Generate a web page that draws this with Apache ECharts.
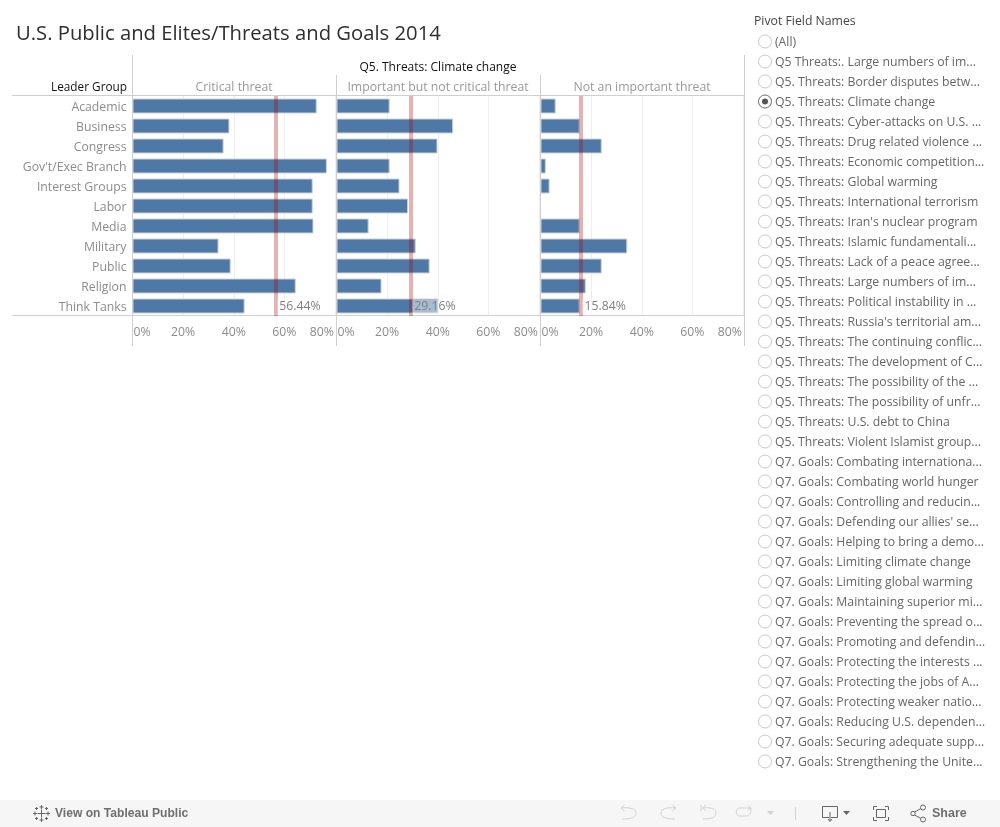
<!DOCTYPE html>
<html>
<head>
<meta charset="utf-8">
<style>html,body{margin:0;padding:0;background:#fff}#c{width:1000px;height:827px}</style>
<script src="https://cdn.jsdelivr.net/npm/echarts@6/dist/echarts.min.js"></script>
</head>
<body>
<div id="c"></div>
<script>
const chartTitle = "U.S. Public and Elites/Threats and Goals 2014";
const questionTitle = "Q5. Threats: Climate change";
const rowHeader = "Leader Group";
const leaderGroups = ["Academic","Business","Congress","Gov't/Exec Branch","Interest Groups","Labor","Media","Military","Public","Religion","Think Tanks"];
const panelNames = ["Critical threat","Important but not critical threat","Not an important threat"];
const criticalValues = [72.8,38.3,36,76.8,71.2,71.2,71.5,34,38.8,64.5,44.3];
const importantValues = [21,46.1,39.9,21,24.9,28.3,12.7,31.3,36.8,17.8,40.3];
const notImportantValues = [6,15.5,24.2,2.1,3.6,null,15.5,34.3,24.2,17.9,15.5];
const referenceValues = [56.44,29.16,15.84];
const filterTitle = "Pivot Field Names";
const filterItems = ["(All)","Q5 Threats:. Large numbers of im...","Q5. Threats: Border disputes betw...","Q5. Threats: Climate change","Q5. Threats: Cyber-attacks on U.S. ...","Q5. Threats: Drug related violence ...","Q5. Threats: Economic competition...","Q5. Threats: Global warming","Q5. Threats: International terrorism","Q5. Threats: Iran's nuclear program","Q5. Threats: Islamic fundamentali...","Q5. Threats: Lack of a peace agree...","Q5. Threats: Large numbers of im...","Q5. Threats: Political instability in ...","Q5. Threats: Russia's territorial am...","Q5. Threats: The continuing conflic...","Q5. Threats: The development of C...","Q5. Threats: The possibility of the ...","Q5. Threats: The possibility of unfr...","Q5. Threats: U.S. debt to China","Q5. Threats: Violent Islamist group...","Q7. Goals: Combating internationa...","Q7. Goals: Combating world hunger","Q7. Goals: Controlling and reducin...","Q7. Goals: Defending our allies' se...","Q7. Goals: Helping to bring a demo...","Q7. Goals: Limiting climate change","Q7. Goals: Limiting global warming","Q7. Goals: Maintaining superior mi...","Q7. Goals: Preventing the spread o...","Q7. Goals: Promoting and defendin...","Q7. Goals: Protecting the interests ...","Q7. Goals: Protecting the jobs of A...","Q7. Goals: Protecting weaker natio...","Q7. Goals: Reducing U.S. dependen...","Q7. Goals: Securing adequate supp...","Q7. Goals: Strengthening the Unite..."];
const selectedFilter = "Q5. Threats: Climate change";
const footerLink = "View on Tableau Public";
const footerShare = "Share";

const FONT = '"Open Sans", sans-serif';
const allValues = [criticalValues, importantValues, notImportantValues];
const lefts = [132.5, 336.5, 540.5];
const g = [];
const line = (x1,y1,x2,y2,stroke,lw,z) => g.push({type:'line',shape:{x1,y1,x2,y2},style:{stroke,lineWidth:lw||1},z:z||1,silent:true});
const text = (x,y,t,fill,size,align,weight,font) => g.push({type:'text',x,y,style:{text:t,fill,fontSize:size,fontFamily:font||FONT,fontWeight:weight||'normal',align:align||'left',verticalAlign:'middle'},z:6,silent:true});
const poly = (points,stroke) => g.push({type:'polyline',shape:{points},style:{stroke,fill:null,lineWidth:1},z:6,silent:true});
const curve = (x1,y1,cpx1,cpy1,cpx2,cpy2,x2,y2,stroke) => g.push({type:'bezierCurve',shape:{x1,y1,cpx1,cpy1,cpx2,cpy2,x2,y2},style:{stroke,fill:null,lineWidth:1},z:6,silent:true});

// frame
[132.5,744.5].forEach(x => line(x,55,x,346,'#cfcfcf',1,6));
[336.5,540.5].forEach(x => line(x,75,x,346,'#cfcfcf',1,6));
[95.5,315.5].forEach(y => line(12,y,744,y,'#cfcfcf',1,6));

// headers
text(16,34.5,chartTitle,'#2e2e2e',20.25,'left','normal');
text(438,68,questionTitle,'#111',12,'center','normal');
text(127,87.5,rowHeader,'#111',11.8,'right','normal');
panelNames.forEach((n,i)=>text([234,438,642][i],87.5,n,'#999',12.25,'center'));

// filter list
text(754,22,filterTitle,'#444',12.25);
filterItems.forEach((n,i)=>{
  const y = 41 + i*20;
  g.push({type:'circle',shape:{cx:765,cy:y+0.5,r:6.5},style:{fill:'#fff',stroke:'#c8c8c8',lineWidth:1},z:6,silent:true});
  if(n===selectedFilter){
    g.push({type:'circle',shape:{cx:765,cy:y+0.5,r:6.5},style:{fill:'#fff',stroke:'#777',lineWidth:1},z:6,silent:true});
    g.push({type:'circle',shape:{cx:765,cy:y+0.5,r:3},style:{fill:'#555'},z:7,silent:true});
  }
  text(775,y+2,n,'#666',12.25);
});

// footer
g.push({type:'rect',shape:{x:0,y:800,width:1000,height:27},style:{fill:'#f6f6f6'},z:0,silent:true});
text(55,814,footerLink,'#6f6f6f',12.1,'left','bold','"Liberation Sans", sans-serif');
text(932,814,footerShare,'#6f6f6f',12.5,'left','bold','"Liberation Sans", sans-serif');
// logo
[[41.5,813.5,4],[35,813.5,2],[48,813.5,2],[41.5,807,2],[41.5,820,2],[36.5,808.5,1.5],[46.5,808.5,1.5],[36.5,818.5,1.5],[46.5,818.5,1.5]].forEach(([x,y,s])=>{
  line(x-s,y,x+s,y,'#666',1,6); line(x,y-s,x,y+s,'#666',1,6);
});
const light='#d2d2d2', dark='#666';
// undo
poly([[624.5,805],[621,808],[624.5,811]],light);
curve(621,808,631,807,636,809,636,813,light); curve(636,813,636,817,632,819,622,819,light);
// redo
poly([[672.5,805],[676,808],[672.5,811]],light);
curve(676,808,666,807,661,809,661,813,light); curve(661,813,661,817,665,819,675,819,light);
// revert
line(701,805,701,811,light,1,6);
poly([[706,805],[702.5,808],[706,811]],light);
curve(702.5,808,712,807,716,809,716,813,light); curve(716,813,716,817,712,819,703,819,light);
// refresh
poly([[748,805.5],[751,808],[748,810.5]],light);
curve(751,808,742,808,741,808,740,808,light);
curve(740,808,735,808,735,816,740,816,light);
poly([[740,816],[746,816]],light);
curve(746,816,750,816,751,813,751,808,light);
g.push({type:'polygon',shape:{points:[[767,811],[774,811],[770.5,815]]},style:{fill:light},z:6,silent:true});
line(795.5,807,795.5,820,light,1,6);
// download
poly([[829,817.5],[822.5,817.5],[822.5,806.5],[837.5,806.5],[837.5,817.5],[831,817.5]],dark);
line(830,812,830,821,dark,1,6);
poly([[828,819],[830,821.5],[832,819]],dark);
g.push({type:'polygon',shape:{points:[[843,811],[850,811],[846.5,815]]},style:{fill:dark},z:6,silent:true});
// fullscreen
poly([[873.5,810],[873.5,806.5],[877,806.5]],dark);
poly([[885,806.5],[888.5,806.5],[888.5,810]],dark);
poly([[888.5,817],[888.5,820.5],[885,820.5]],dark);
poly([[877,820.5],[873.5,820.5],[873.5,817]],dark);
poly([[876.5,809.5],[885.5,809.5],[885.5,817.5],[876.5,817.5],[876.5,809.5]],dark);
// share
line(914.5,812,921,808.5,dark,1,6);
line(914.5,815,921,818.5,dark,1,6);
[[913,813.5,2.2],[923,807.5,2.5],[923,819.5,2.5]].forEach(([cx,cy,r])=>g.push({type:'circle',shape:{cx,cy,r},style:{fill:'#f6f6f6',stroke:dark,lineWidth:1},z:7,silent:true}));

const grids = lefts.map(left=>({left,top:96,width:202.5,height:220,containLabel:false}));
const xAxes = lefts.map((_,i)=>({
  type:'value',gridIndex:i,min:0,max:80,interval:20,position:'bottom',
  axisLine:{show:false},axisTick:{show:false},
  splitLine:{show:true,lineStyle:{color:'#eeeeee',width:1}},
  axisLabel:{formatter:'{value}%',color:'#8c8c8c',fontSize:12.25,fontFamily:FONT,margin:11,alignMinLabel:'left',alignMaxLabel:'right',padding:[0,1,0,1]}
}));
const yAxes = lefts.map((_,i)=>({
  type:'category',gridIndex:i,data:leaderGroups,inverse:true,
  axisLine:{show:false},axisTick:{show:false},splitLine:{show:false},
  axisLabel:{show:i===0,color:'#8c8c8c',fontSize:12.25,fontFamily:FONT,margin:6,interval:0,
    formatter:'{n|{value}}',rich:{n:{color:'#8c8c8c',fontSize:12.25,fontFamily:FONT,padding:[3,0,0,0]}}}
}));
const series = allValues.map((vals,i)=>({
  type:'bar',xAxisIndex:i,yAxisIndex:i,data:vals,barWidth:15,z:2,
  itemStyle:{color:'#4e79a7',borderColor:'#ced2d6',borderWidth:1},
  silent:true,
  markLine:{silent:true,symbol:'none',animation:false,label:{show:false},z:8,
    lineStyle:{color:'rgba(170,0,0,0.3)',width:4,type:'solid'},
    data:[{xAxis:referenceValues[i]}]},
  markPoint:{silent:true,symbol:'circle',symbolSize:0,animation:false,z:9,
    label:{show:true,position:'right',distance:2,offset:[0,1],formatter:p=>p.value.toFixed(2)+'%',color:'#808080',fontSize:12.25,fontFamily:FONT,
      backgroundColor:'rgba(255,255,255,0.5)',padding:[0,0,0,2],lineHeight:15,height:15},
    data:[{coord:[referenceValues[i],leaderGroups[leaderGroups.length-1]],value:referenceValues[i]}]}
}));

const chart = echarts.init(document.getElementById('c'),null,{renderer:'canvas',width:1000,height:827});
chart.setOption({animation:false,backgroundColor:'#fff',grid:grids,xAxis:xAxes,yAxis:yAxes,series,graphic:{elements:g}});
</script>
</body>
</html>
